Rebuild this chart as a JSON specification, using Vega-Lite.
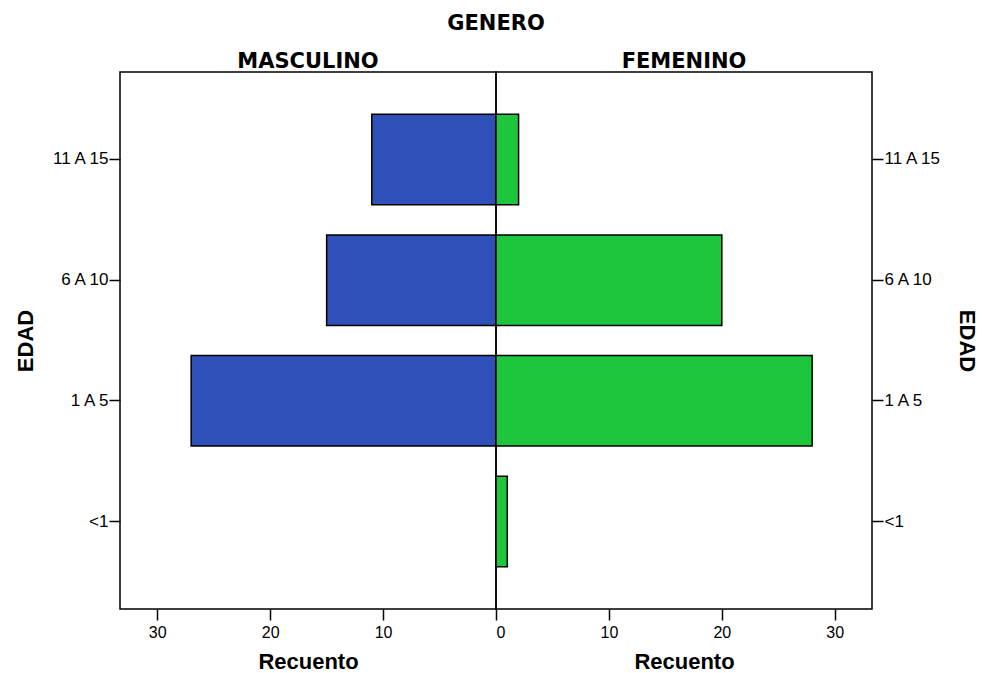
{
  "$schema": "https://vega.github.io/schema/vega-lite/v6.json",
  "background": "white",
  "padding": {"left": 13, "top": 13, "right": 10, "bottom": 5},
  "bounds": "flush",
  "title": {"text": "GENERO", "font": "DejaVu Sans", "fontSize": 21, "fontWeight": "bold", "color": "black", "anchor": "middle", "offset": 16},
  "data": {"values": [
    {"edad": "11 A 15", "genero": "MASCULINO", "recuento": 11},
    {"edad": "6 A 10", "genero": "MASCULINO", "recuento": 15},
    {"edad": "1 A 5", "genero": "MASCULINO", "recuento": 27},
    {"edad": "<1", "genero": "MASCULINO", "recuento": 0},
    {"edad": "11 A 15", "genero": "FEMENINO", "recuento": 2},
    {"edad": "6 A 10", "genero": "FEMENINO", "recuento": 20},
    {"edad": "1 A 5", "genero": "FEMENINO", "recuento": 28},
    {"edad": "<1", "genero": "FEMENINO", "recuento": 1}
  ]},
  "spacing": 0,
  "config": {
    "view": {"stroke": "black", "strokeWidth": 1.5},
    "concat": {"spacing": 0},
    "axis": {
      "labelFont": "Liberation Sans", "labelFontSize": 17, "labelColor": "black",
      "titleFont": "Liberation Sans", "titleFontSize": 22, "titleFontWeight": "bold", "titleColor": "black",
      "tickColor": "black", "tickWidth": 1.5, "tickSize": 11, "domain": false, "grid": false, "labelPadding": 1
    },
    "title": {"font": "DejaVu Sans", "fontSize": 21, "fontWeight": "bold", "color": "black"}
  },
  "hconcat": [
    {
      "title": {"text": "MASCULINO", "anchor": "middle", "offset": 0},
      "width": 376, "height": 537,
      "transform": [{"filter": "datum.genero === 'MASCULINO'"}],
      "mark": {"type": "bar", "color": "#2E50B8", "stroke": "black", "strokeWidth": 1.5},
      "encoding": {
        "y": {"field": "edad", "type": "nominal", "sort": ["11 A 15", "6 A 10", "1 A 5", "<1"],
          "scale": {"paddingInner": 0.25, "paddingOuter": 0.35},
          "axis": {"title": "EDAD", "orient": "left", "titlePadding": 13}},
        "x": {"field": "recuento", "type": "quantitative",
          "scale": {"domain": [0, 33.3], "reverse": true, "nice": false, "zero": true},
          "axis": {"values": [10, 20, 30], "title": "Recuento", "titlePadding": 11, "labelPadding": 4, "labelFontSize": 16}}
      }
    },
    {
      "title": {"text": "FEMENINO", "anchor": "middle", "offset": 0},
      "width": 376, "height": 537,
      "transform": [{"filter": "datum.genero === 'FEMENINO'"}],
      "mark": {"type": "bar", "color": "#1DC63C", "stroke": "black", "strokeWidth": 1.5},
      "encoding": {
        "y": {"field": "edad", "type": "nominal", "sort": ["11 A 15", "6 A 10", "1 A 5", "<1"],
          "scale": {"paddingInner": 0.25, "paddingOuter": 0.35},
          "axis": {"title": "EDAD", "orient": "right", "titlePadding": 13}},
        "x": {"field": "recuento", "type": "quantitative",
          "scale": {"domain": [0, 33.3], "nice": false, "zero": true},
          "axis": {"values": [0, 10, 20, 30], "title": "Recuento", "titlePadding": 11, "labelPadding": 4, "labelFontSize": 16}}
      }
    }
  ]
}
